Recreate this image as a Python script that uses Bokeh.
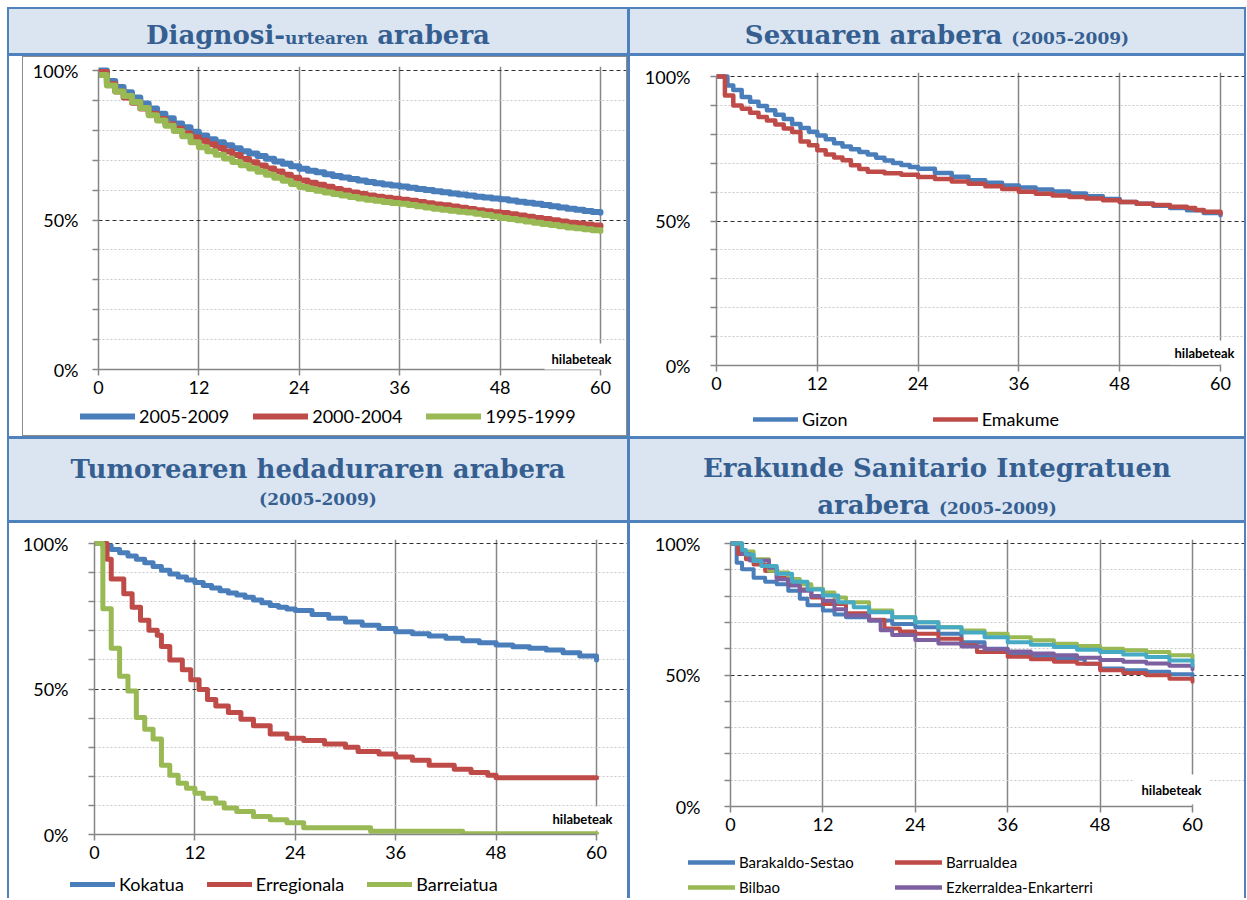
from bokeh.plotting import figure
from bokeh.models import Range1d, FixedTicker, Grid, Legend, LegendItem, Label, Div
from bokeh.layouts import row, column
from bokeh.embed import file_html
from bokeh.resources import INLINE

# ---------------- data ----------------
x_ticks = [0, 12, 24, 36, 48, 60]
y_ticks = [0, 10, 20, 30, 40, 50, 60, 70, 80, 90, 100]
y_major_labels = {0: "0%", 50: "50%", 100: "100%"}
x_unit = "hilabeteak"

title1 = 'Diagnosi-<span style="font-size:17px">urtearen</span> arabera'
title2 = 'Sexuaren arabera <span style="font-size:17px">(2005-2009)</span>'
title3 = 'Tumorearen hedaduraren arabera<br><span style="font-size:17px">(2005-2009)</span>'
title4 = 'Erakunde Sanitario Integratuen<br>arabera <span style="font-size:17px">(2005-2009)</span>'

# Panel 1: by year of diagnosis (monthly survival, %)
p1_months = list(range(61))
p1_2005_2009 = [100, 96.5, 94.5, 92.7, 91, 89, 87.3, 85.5, 84, 82.3,
                81, 79.5, 78.3, 77, 76, 75, 74, 73, 72.2, 71.4,
                70.5, 69.6, 68.8, 68, 67.1, 66.5, 66, 65.3, 64.7, 64.2,
                63.7, 63.2, 62.7, 62.3, 61.9, 61.5, 61.2, 60.8, 60.4, 60,
                59.6, 59.3, 58.9, 58.5, 58.2, 57.8, 57.5, 57.2, 56.9, 56.5,
                56.1, 55.8, 55.4, 55, 54.6, 54.2, 53.8, 53.4, 53, 52.7, 52.4]
p1_2000_2004 = [99.5, 95.5, 93, 91, 89.2, 87.3, 85.5, 83.8, 82, 80.5,
                79, 77.7, 76.5, 75.3, 74.1, 72.9, 71.7, 70.4, 69.3, 68.2,
                67.2, 66.2, 65.1, 64.1, 63.2, 62.5, 61.8, 61.1, 60.4, 59.8,
                59.2, 58.7, 58.2, 57.8, 57.4, 57.1, 56.8, 56.4, 56, 55.6,
                55.2, 54.9, 54.5, 54.1, 53.7, 53.3, 52.9, 52.6, 52.3, 51.9,
                51.5, 51.1, 50.7, 50.3, 49.9, 49.5, 49.1, 48.8, 48.5, 48.2, 47.9]
p1_1995_1999 = [98.5, 95, 93, 91.5, 89.5, 87.5, 85, 83.3, 81.5, 79.8,
                78, 76, 74.3, 73, 71.8, 70.6, 69.4, 68.3, 67.2, 66.1,
                65.1, 64.1, 63.1, 62, 61, 60.4, 59.8, 59.2, 58.7, 58.2,
                57.7, 57.2, 56.8, 56.4, 56, 55.7, 55.4, 55, 54.6, 54.2,
                53.8, 53.4, 53.1, 52.8, 52.5, 52.1, 51.7, 51.2, 50.7, 50.3,
                49.9, 49.5, 49.1, 48.7, 48.3, 47.9, 47.5, 47.2, 46.9, 46.6, 46.3]
p1_labels = ["2005-2009", "2000-2004", "1995-1999"]

# Panel 2: by sex
gizon_months = [0, 1.3, 2, 3, 4, 5, 6, 7, 8, 9, 10, 11, 12, 13, 14, 15, 16, 17, 18, 19, 20,
                21, 22, 23, 24, 26, 28, 30, 32, 34, 36, 38, 40, 42, 44, 46, 48, 50, 52, 54, 56, 58, 60]
gizon_values = [100, 96.9, 95.3, 92.9, 91.3, 89.8, 88.3, 86.8, 85.3, 83.6, 82.2, 80.9, 79.6, 78.3,
                76.9, 75.8, 74.8, 73.9, 73, 71.9, 70.9, 70.1, 69.4, 68.7, 68.1, 66.6, 65.3, 64.1,
                63.2, 62.3, 61.6, 60.9, 60.2, 59.5, 58.6, 57.6, 56.6, 56, 55.3, 54.5, 53.7, 52.8, 52]
emakume_months = [0, 1, 2, 3, 4, 5, 6, 7, 8, 9, 10, 11, 12, 13, 14, 15, 16, 17, 18, 20, 22, 24, 26,
                  28, 30, 32, 34, 36, 38, 40, 42, 44, 46, 48, 50, 52, 54, 56, 57, 58, 60]
emakume_values = [100, 93.4, 90, 88.8, 87.5, 86, 84.8, 83.4, 82, 80.8, 77.5, 76.2, 74.5, 73, 72, 71,
                  69.3, 68, 67, 66.5, 66, 65.2, 64.5, 63.7, 62.9, 62, 61.1, 60.1, 59.4, 58.8, 58.3,
                  57.8, 57.2, 56.6, 56, 55.5, 54.9, 54.5, 53.8, 53.2, 52.6]
p2_labels = ["Gizon", "Emakume"]

# Panel 3: by tumour extent
kokatua_months = [0, 1, 2, 3, 4, 5, 6, 7, 8, 9, 10, 11, 12, 13, 14, 15, 16, 17, 18, 19, 20, 21, 22,
                  23, 24, 26, 28, 30, 32, 34, 36, 38, 40, 42, 44, 46, 48, 50, 52, 54, 56, 58, 60]
kokatua_values = [100, 99.1, 97.9, 96.8, 95.7, 94.6, 93.4, 92.1, 90.8, 89.5, 88.5, 87.5, 86.6, 85.6,
                  84.7, 83.8, 83, 82.3, 81.5, 80.6, 79.6, 78.7, 78.1, 77.5, 77, 75.6, 74.3, 73,
                  71.9, 70.8, 69.7, 69, 68.2, 67.4, 66.6, 65.9, 65.1, 64.5, 64, 63.4, 62.5, 61.3, 60]
erregionala_months = [0, 1.5, 2, 3.5, 4.5, 5.5, 6.5, 7.5, 8, 9, 10.5, 11.5, 12.5, 13.5, 14.5, 16,
                      17.5, 19, 21, 23, 25, 27.5, 30, 31.5, 34, 36, 38, 40, 43, 45, 47, 48, 60]
erregionala_values = [100, 94.6, 87.8, 82.7, 78.1, 73.6, 70.2, 68.5, 64.6, 60, 56.6, 53.2, 49.8,
                      46.4, 44.2, 41.9, 39.6, 37.4, 34.5, 33.1, 32.3, 31.1, 30, 28.5, 27.7, 26.6,
                      25.5, 23.8, 22.4, 21.3, 20.4, 19.5, 19.5]
barreiatua_months = [0, 1, 2, 3, 4, 5, 6, 7, 8, 9, 10, 11, 12, 13, 14.5, 15.5, 17, 19, 21, 23, 25,
                     33, 44, 60]
barreiatua_values = [100, 77.6, 64, 54.4, 49.3, 40.2, 36.2, 32.8, 23.8, 20.4, 17.6, 15.9, 14.2,
                     12.5, 10.8, 9.1, 7.9, 6.2, 5.1, 4, 2.3, 1.1, 0.3, 0.3]
p3_labels = ["Kokatua", "Erregionala", "Barreiatua"]

# Panel 4: by integrated health organisation
barakaldo_months = [0, 0.8, 1.5, 3, 4.5, 6, 7.5, 9, 10, 12, 13.5, 15, 18, 21, 24, 27, 30, 33, 36,
                    39, 42, 46, 48, 51, 54, 57, 60]
barakaldo_values = [100, 92.7, 90.2, 87, 85.5, 84.5, 82, 79, 76.5, 74.5, 73, 72, 70.7, 69.4, 68.2,
                    65.7, 62.5, 60, 58.1, 57, 56.2, 54.3, 52.5, 51.8, 51.2, 50.3, 49.6]
barrualdea_months = [0, 1, 2, 3, 4.5, 6, 7.5, 9, 10.5, 12, 15, 18, 20, 22, 24, 27, 30, 32, 36, 39,
                     42, 45, 48, 51, 54, 57, 60]
barrualdea_values = [100, 96, 94, 92, 89.5, 87, 84.5, 82.5, 79.5, 77, 73.5, 71, 67.7, 66.5, 65.7,
                     63.8, 61.3, 58.7, 56.9, 56, 55, 54.3, 51.8, 50.8, 49.9, 48.6, 47.4]
bilbao_months = [0, 1.5, 3, 5, 6, 7.5, 9, 10.5, 12, 13.5, 15, 18, 21, 24, 27, 30, 33, 36, 39, 42,
                 45, 48, 51, 54, 57, 60]
bilbao_values = [100, 97, 94, 89.6, 89, 86.5, 84.5, 82.8, 81.4, 79.5, 77.7, 74.5, 72, 70.1, 68.2,
                 66.9, 65.7, 64.4, 63.2, 61.9, 61, 60, 59.4, 58.7, 57.5, 55.5]
ezkerraldea_months = [0, 1.5, 2.5, 5, 6, 7.5, 9, 10.5, 12, 13.5, 15, 18, 19.5, 21, 24, 27, 30, 33,
                      36, 39, 42, 45, 48, 51, 54, 57, 60]
ezkerraldea_values = [100, 96, 93.5, 90.8, 86.4, 84, 82, 80, 78.2, 75, 72.6, 70.7, 67, 65.2, 63.3,
                      62, 60.8, 59.8, 58.9, 58.2, 57.5, 56.6, 55.7, 55, 54.4, 53.5, 52.2]
# fifth organisation (its legend entry is cut off in the original)
fifth_months = [0, 1.5, 2, 3, 4, 6, 8, 10, 12, 14, 16, 18, 21, 24, 27, 30, 33, 36, 39, 42, 45, 48,
                51, 54, 57, 60]
fifth_values = [100, 97.5, 95.8, 93.3, 91.4, 88.5, 85.5, 82.5, 80.2, 77.7, 75.8, 73.9, 72, 70.1,
                68.2, 66.2, 64.4, 62.5, 61.5, 60.6, 59.6, 58.7, 57.8, 56.8, 55.5, 53.6]
p4_labels = ["Barakaldo-Sestao", "Barrualdea", "Bilbao", "Ezkerraldea-Enkarterri"]

# ---------------- styles ----------------
BLUE_BORDER = "#4F81BD"
HDR_BG = "#DBE5F1"
HDR_TXT = "#365F91"
AX = "#868686"
C_BLUE = "#4A7EBB"
C_RED = "#BE4B48"
C_GREEN = "#98B954"
C_PURPLE = "#7D60A0"
C_CYAN = "#46AAC5"
FONT = "Lato"


def base_fig(w, h, x0, x60, y100, y0, ylab_standoff, tick_px):
    top_pad = 4
    right_pad = w - x60
    sx = 60.0 / (x60 - x0)
    sy = 100.0 / (y0 - y100)
    p = figure(width=w, height=h, output_backend="svg", toolbar_location=None,
               x_range=Range1d(0, 60 + right_pad * sx),
               y_range=Range1d(0, 100 + top_pad * sy),
               min_border_left=x0, min_border_right=0,
               min_border_top=y100 - top_pad, min_border_bottom=h - y0,
               background_fill_color="white", border_fill_color="white",
               outline_line_color=None, margin=0)
    p.frame_align = False
    xa = p.xaxis[0]
    xa.ticker = FixedTicker(ticks=x_ticks)
    xa.bounds = (0, 60)
    ya = p.yaxis[0]
    ya.ticker = FixedTicker(ticks=y_ticks)
    ya.bounds = (0, 100)
    ya.major_label_overrides = {t: y_major_labels.get(t, "") for t in y_ticks}
    for a in (xa, ya):
        a.axis_line_color = AX
        a.axis_line_width = 1.5
        a.major_tick_line_color = AX
        a.major_tick_line_width = 1.5
        a.major_tick_out = 6
        a.major_tick_in = 0
        a.minor_tick_out = 0
        a.minor_tick_in = 0
        a.major_label_text_font = FONT
        a.major_label_text_font_size = f"{tick_px}px"
        a.major_label_text_color = "black"
    xa.major_label_standoff = 5
    ya.major_label_standoff = ylab_standoff

    g = p.xgrid[0]
    g.ticker = FixedTicker(ticks=[12, 24, 36, 48, 60])
    g.grid_line_color = AX
    g.grid_line_width = 1.5
    g.bounds = (0, 100)
    gy = p.ygrid[0]
    gy.ticker = FixedTicker(ticks=[50, 100])
    gy.grid_line_color = "#303030"
    gy.grid_line_width = 1
    gy.grid_line_dash = "4 3"
    gy.bounds = (0, 60)
    gm = Grid(dimension=1, ticker=FixedTicker(ticks=[10, 20, 30, 40, 60, 70, 80, 90]),
              grid_line_color="#C8C8C8", grid_line_width=1, grid_line_dash="2 2", bounds=(0, 60))
    p.add_layout(gm)
    return p


def legend_strip(w, h):
    s = figure(width=w, height=h, output_backend="svg", toolbar_location=None,
               x_range=Range1d(0, w), y_range=Range1d(0, h),
               min_border_left=0, min_border_right=0, min_border_top=0, min_border_bottom=0,
               x_axis_location=None, y_axis_location=None, outline_line_color=None,
               background_fill_color="white", border_fill_color="white", margin=0)
    s.frame_align = False
    s.grid.visible = False
    return s


def add_legend(s, labels, colors, lw, lx, ly, glyph_w, spacing, font_px, h=22, label_w=20):
    items = []
    for lab, col in zip(labels, colors):
        # key swatch only: its two points lie outside the visible range
        r = s.line(x=[-50, -40], y=[-50, -50], line_color=col, line_width=lw, line_cap="round")
        items.append(LegendItem(label=lab, renderers=[r]))
    leg = Legend(items=items, location=(lx, ly), orientation="horizontal",
                 glyph_width=glyph_w, glyph_height=h, label_height=h, label_width=label_w,
                 label_standoff=4, spacing=spacing, padding=0, margin=0,
                 background_fill_alpha=0, border_line_alpha=0,
                 label_text_font=FONT, label_text_font_size=f"{font_px}px",
                 label_text_color="black")
    s.add_layout(leg)


def add_unit(p, xoff, yoff, pad=7):
    p.add_layout(Label(x=60, y=0, text=x_unit, text_align="right", text_baseline="middle",
                       x_offset=xoff, y_offset=yoff, text_font=FONT, text_font_style="bold",
                       text_font_size="13px", text_color="black",
                       background_fill_color="white", padding=pad))


def header(html, w, h, lh, top, dy):
    inner = (f'<div style="position:relative;top:{dy}px;width:{w}px;box-sizing:border-box;'
             f'padding-top:{top}px;text-align:center;font-family:\'DejaVu Serif\';font-weight:bold;'
             f'color:{HDR_TXT};font-size:26px;line-height:{lh};white-space:nowrap;">{html}</div>')
    return Div(text=inner, width=w, height=h, margin=0,
               styles={"background-color": HDR_BG, "overflow": "hidden"})


def bar(w, h):
    return Div(text="", width=w, height=h, margin=0, styles={"background-color": BLUE_BORDER})


def blank(w, h):
    return Div(text="", width=w, height=h, margin=0, styles={"background-color": "white"})


def step(p, xs, ys, color, lw):
    return p.step(x=xs, y=ys, mode="after", line_color=color, line_width=lw,
                  line_join="round", line_cap="round")


W_L, W_R = 618, 614
H_TOP, H_BOT = 380, 375

# ---------------- panel 1 (inside a grey chart-area frame) ----------------
W_1 = 603
p1 = base_fig(W_1, 346, 75, 577, 13, 312, 14, 18)
step(p1, p1_months, p1_2005_2009, C_BLUE, 6)
step(p1, p1_months, p1_2000_2004, C_RED, 6)
step(p1, p1_months, p1_1995_1999, C_GREEN, 6)
add_unit(p1, 18, 11)
s1 = legend_strip(W_1, 32)
add_legend(s1, p1_labels, [C_BLUE, C_RED, C_GREEN], 6, 57, 8, 55, 24, 18)
box1 = column(p1, s1, spacing=0, margin=0,
              styles={"border": "1px solid #8C8C8C", "background-color": "white"})
cell1 = row(blank(13, H_TOP), box1, spacing=0, margin=0)

# ---------------- panel 2 ----------------
p2 = base_fig(W_R, 347, 86, 590, 20, 309, 20, 18)
step(p2, gizon_months, gizon_values, C_BLUE, 4.5)
step(p2, emakume_months, emakume_values, C_RED, 4.5)
add_unit(p2, 18, 13, pad=4)
s2 = legend_strip(W_R, 33)
add_legend(s2, p2_labels, [C_BLUE, C_RED], 4.5, 123, 6, 45, 85, 18)

# ---------------- panel 3 ----------------
p3 = base_fig(W_L, 345, 85, 587, 20, 311, 20, 18)
step(p3, kokatua_months, kokatua_values, C_BLUE, 5)
step(p3, erregionala_months, erregionala_values, C_RED, 5)
step(p3, barreiatua_months, barreiatua_values, C_GREEN, 5)
add_unit(p3, 20, 16, pad=4)
s3 = legend_strip(W_L, 30)
add_legend(s3, p3_labels, [C_BLUE, C_RED, C_GREEN], 5, 61, 3, 45, 23, 18)

# ---------------- panel 4 ----------------
p4 = base_fig(W_R, 317, 100, 562, 20, 283, 24, 18)
step(p4, barakaldo_months, barakaldo_values, C_BLUE, 4)
step(p4, barrualdea_months, barrualdea_values, C_RED, 4)
step(p4, bilbao_months, bilbao_values, C_GREEN, 4)
step(p4, ezkerraldea_months, ezkerraldea_values, C_PURPLE, 4)
step(p4, fifth_months, fifth_values, C_CYAN, 4)
add_unit(p4, 16, 17)
s4 = legend_strip(W_R, 58)
add_legend(s4, p4_labels[0:2], [C_BLUE, C_RED], 4.5, 58, 25, 47, 26, 15, h=22, label_w=130)
add_legend(s4, p4_labels[2:4], [C_GREEN, C_PURPLE], 4.5, 58, 0, 47, 26, 15, h=22, label_w=130)

# ---------------- layout ----------------
h1 = header(title1, W_L, 44, 1.15, 7, 5)
h2 = header(title2, W_R, 44, 1.15, 7, 5)
h3 = header(title3, W_L, 81, 1.05, 15, 2)
h4 = header(title4, W_R, 81, 1.42, 11, 0)

TOTAL_H = 2 + 44 + 3 + H_TOP + 3 + 81 + 3 + H_BOT
col_l = column(bar(W_L, 2), h1, bar(W_L, 3), cell1, bar(W_L, 3), h3, bar(W_L, 3), p3, s3,
               spacing=0, margin=0)
col_r = column(bar(W_R, 2), h2, bar(W_R, 3), p2, s2, bar(W_R, 3), h4, bar(W_R, 3), p4, s4,
               spacing=0, margin=0)
root = row(bar(2, TOTAL_H), col_l, bar(3, TOTAL_H), col_r, bar(2, TOTAL_H),
           spacing=0, margin=(7, 0, 0, 7))

open("out.html", "w").write(file_html(root, INLINE))
